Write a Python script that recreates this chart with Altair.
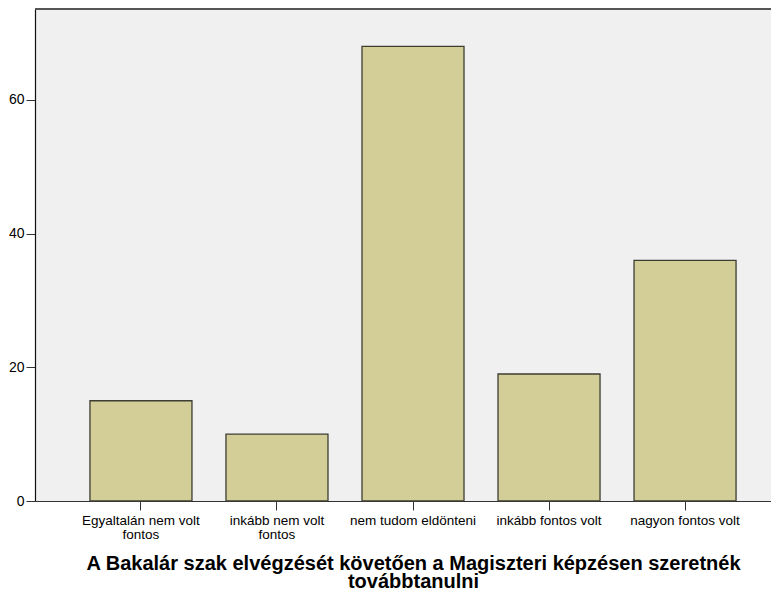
import altair as alt
import pandas as pd

categories = ["Egyaltalán nem volt|fontos", "inkább nem volt|fontos", "nem tudom eldönteni",
              "inkább fontos volt", "nagyon fontos volt"]
counts = [15, 10, 68, 19, 36]
y_ticks = [0, 20, 40, 60]
title_lines = ["A Bakalár szak elvégzését követően a Magiszteri képzésen szeretnék", "továbbtanulni"]

df = pd.DataFrame({"cat": categories, "n": counts})

W, H = 736, 492

bars = alt.Chart(df).mark_bar(
    color="#d3ce97", stroke="#3d3d33", strokeWidth=1.3
).encode(
    x=alt.X("cat:N", sort=categories,
            scale=alt.Scale(range=[0, 756], paddingInner=0.25, paddingOuter=0.404),
            axis=alt.Axis(title=title_lines, labelExpr="split(datum.label, '|')",
                          labelAngle=0, labelFont="Liberation Sans", labelFontSize=13.5,
                          labelColor="#000", labelLineHeight=14.5, labelBaseline="top",
                          labelPadding=3, tickSize=9, tickColor="#333", tickWidth=1,
                          domainColor="#333", domainWidth=1,
                          titleFont="Liberation Sans", titleFontSize=20, titleFontWeight="bold",
                          titleColor="#000", titleLineHeight=18, titleBaseline="alphabetic",
                          titleY=68, labelOverlap=False)),
    y=alt.Y("n:Q", scale=alt.Scale(domain=[0, 73.6], nice=False, zero=True),
            axis=alt.Axis(title=None, values=y_ticks, grid=False, labelFont="Liberation Sans",
                          labelFontSize=14, labelColor="#000", tickSize=9, labelPadding=2,
                          tickColor="#333", domainColor="#111", domainWidth=1.2)),
)

top_line = alt.Chart(df).mark_rule(color="#555", strokeWidth=2).encode(
    y=alt.value(0), x=alt.value(0), x2=alt.value(W)
)

chart = (bars + top_line).properties(
    width=W, height=H,
    autosize=alt.AutoSizeParams(type="none"),
    padding={"left": 27, "top": 1, "right": 0, "bottom": 92},
    background="#ffffff",
).configure_view(fill="#f0f0f0", stroke=None)

chart.save("out.html", embed_options={"renderer": "svg", "actions": False})
